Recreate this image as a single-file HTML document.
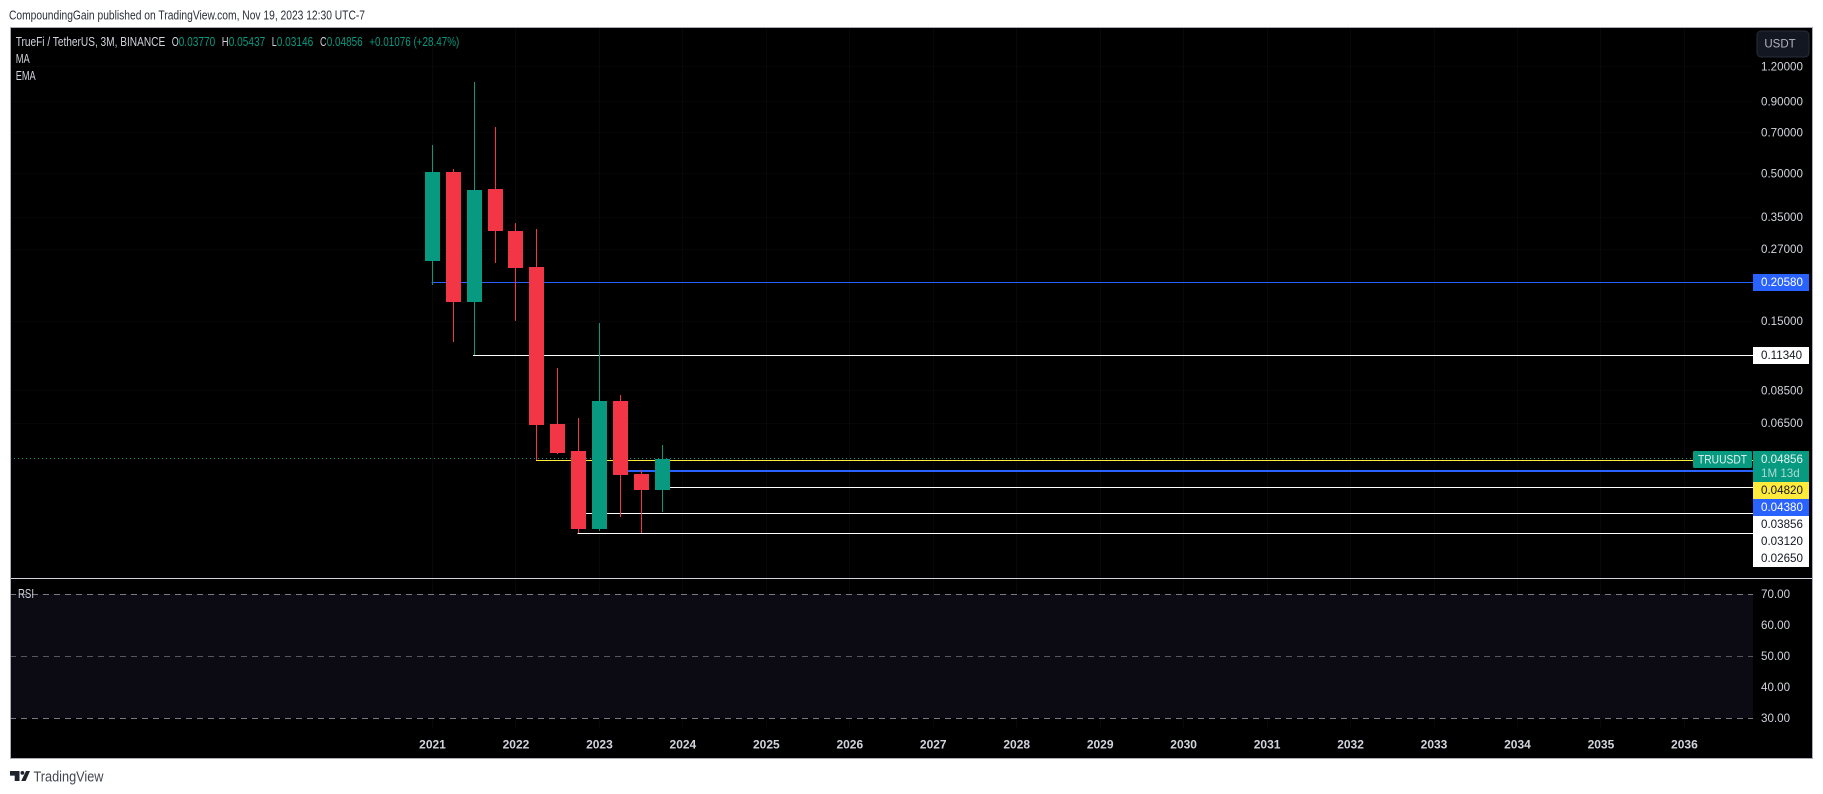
<!DOCTYPE html>
<html lang="en">
<head>
<meta charset="utf-8">
<title>TRUUSDT 3M chart</title>
<style>
html,body{margin:0;padding:0;background:#fff;width:1823px;height:794px;overflow:hidden}
svg{display:block;font-family:"Liberation Sans",sans-serif}
text{dominant-baseline:central}
</style>
</head>
<body>
<svg id="chart" xmlns="http://www.w3.org/2000/svg" width="1823" height="794" viewBox="0 0 1823 794">
  <text x="9" y="15" font-size="13" fill="#2a2e39" textLength="356" lengthAdjust="spacingAndGlyphs">CompoundingGain published on TradingView.com, Nov 19, 2023 12:30 UTC-7</text>
  <rect x="10" y="27" width="1803" height="732" fill="#000"/>
  <g id="grid" shape-rendering="crispEdges"></g>
  <rect x="10" y="594" width="1743" height="124" fill="#0c0a12"/>
  <g id="rsi" shape-rendering="crispEdges"></g>
  <g id="levels" shape-rendering="crispEdges"></g>
  <g id="candles" shape-rendering="crispEdges"></g>
  <g id="axis"></g>

  <rect x="10" y="578" width="1803" height="1" fill="#d1d4dc" shape-rendering="crispEdges"/>
  <rect x="10.5" y="27.5" width="1802" height="731" fill="none" stroke="#a9acb6" stroke-width="1" shape-rendering="crispEdges"/>

  <g font-size="13">
    <text x="15.7" y="41.5" fill="#d1d4dc" textLength="149.5" lengthAdjust="spacingAndGlyphs">TrueFi / TetherUS, 3M, BINANCE</text>
    <text x="171.7" y="41.5" fill="#d1d4dc" textLength="7" lengthAdjust="spacingAndGlyphs">O</text>
    <text x="178.7" y="41.5" fill="#089981" textLength="36.5" lengthAdjust="spacingAndGlyphs">0.03770</text>
    <text x="221.7" y="41.5" fill="#d1d4dc" textLength="6.8" lengthAdjust="spacingAndGlyphs">H</text>
    <text x="228.7" y="41.5" fill="#089981" textLength="36.5" lengthAdjust="spacingAndGlyphs">0.05437</text>
    <text x="271.7" y="41.5" fill="#d1d4dc" textLength="5" lengthAdjust="spacingAndGlyphs">L</text>
    <text x="276.7" y="41.5" fill="#089981" textLength="36.5" lengthAdjust="spacingAndGlyphs">0.03146</text>
    <text x="320" y="41.5" fill="#d1d4dc" textLength="6.5" lengthAdjust="spacingAndGlyphs">C</text>
    <text x="326.7" y="41.5" fill="#089981" textLength="36" lengthAdjust="spacingAndGlyphs">0.04856</text>
    <text x="369.3" y="41.5" fill="#089981" textLength="90" lengthAdjust="spacingAndGlyphs">+0.01076 (+28.47%)</text>
    <text x="15.7" y="58.5" fill="#d1d4dc" textLength="14" lengthAdjust="spacingAndGlyphs">MA</text>
    <text x="15.7" y="75.5" fill="#d1d4dc" textLength="20" lengthAdjust="spacingAndGlyphs">EMA</text>
    <text x="18" y="593.5" fill="#d1d4dc" textLength="16" lengthAdjust="spacingAndGlyphs">RSI</text>
  </g>

  <g>
    <rect x="1757" y="31" width="52" height="26" rx="4" fill="#131722" stroke="#2a2e39"/>
    <text x="1780" y="44.5" font-size="11.5" fill="#b2b5be" text-anchor="middle">USDT</text>
  </g>

  <g>
    <path d="M10 771h9.5v10h-4.8v-5.4H10zM26 771h4l-4.4 10h-4.4zM22.4 771a1.9 1.9 0 1 1 0 3.8a1.9 1.9 0 1 1 0-3.8z" fill="#1e222d"/>
    <text x="33.5" y="777" font-size="15" fill="#434651" textLength="70" lengthAdjust="spacingAndGlyphs">TradingView</text>
  </g>
</svg>

<script>
// ---- data ----
const barTimes   = [2021, 2021.25, 2021.5, 2021.75, 2022, 2022.25, 2022.5, 2022.75, 2023, 2023.25, 2023.5, 2023.75];
const barOpen    = [0.245, 0.507, 0.1752, 0.4415, 0.3132, 0.2333, 0.0646, 0.0519, 0.02739, 0.0780, 0.0430, 0.0377];
const barHigh    = [0.633, 0.520, 1.059, 0.733, 0.3343, 0.3183, 0.1021, 0.0679, 0.1476, 0.0819, 0.04435, 0.05437];
const barLow     = [0.2014, 0.1264, 0.1134, 0.2411, 0.150, 0.0482, 0.0506, 0.0265, 0.0269, 0.0302, 0.0264, 0.03146];
const barClose   = [0.507, 0.1752, 0.438, 0.3132, 0.2314, 0.0641, 0.0510, 0.02739, 0.0780, 0.0426, 0.0377, 0.04856];

const priceTicks = [1.2, 0.9, 0.7, 0.5, 0.35, 0.27, 0.15, 0.085, 0.065];
const yearTicks  = [2021, 2022, 2023, 2024, 2025, 2026, 2027, 2028, 2029, 2030, 2031, 2032, 2033, 2034, 2035, 2036];
const rsiTicks   = [70, 60, 50, 40, 30];

const blueLevels        = [0.2058, 0.0438];
const blueLevelStarts   = [2021, 2023.25];
const whiteLevels       = [0.1134, 0.03856, 0.0312, 0.0265];
const whiteLevelStarts  = [2021.5, 2023.75, 2022.75, 2022.75];
const yellowLevels      = [0.0482];
const yellowLevelStarts = [2022.25];
const lastPrice = 0.04856;
const countdownText = '1M 13d';
const symbolText = 'TRUUSDT';

// ---- axis functions ----
const NS = 'http://www.w3.org/2000/svg';
const plotLeft = 10, plotRight = 1753;
function xOf(t) { return 432.5 + (t - 2021) * 83.46; }
function yOf(p) { return 66.7 + 122.3 * Math.log(1.2 / p); }
function rsiY(v) { return 594.3 + (70 - v) * 3.1; }

function mk(parent, tag, attrs, txt) {
  const el = document.createElementNS(NS, tag);
  for (const k in attrs) el.setAttribute(k, attrs[k]);
  if (txt !== undefined) el.textContent = txt;
  parent.appendChild(el);
  return el;
}
const gridG = document.getElementById('grid');
const rsiG = document.getElementById('rsi');
const levelsG = document.getElementById('levels');
const candlesG = document.getElementById('candles');
const axisG = document.getElementById('axis');
const GREEN = '#089981', RED = '#F23645', BLUE = '#2962FF', YELLOW = '#FFEB3B', WHITE = '#FFFFFF';

// ---- grid ----
priceTicks.forEach(function (p) {
  const el = mk(gridG, 'rect', {x: plotLeft, y: Math.floor(yOf(p)), width: plotRight - plotLeft, height: 1, fill: '#060606'});
  
  
});
yearTicks.forEach(function (t) {
  const x = Math.floor(xOf(t));
  const a = mk(gridG, 'rect', {x: x, y: 28, width: 1, height: 550, fill: '#080808'});
  
  
  const b = mk(gridG, 'rect', {x: x, y: 579, width: 1, height: 150, fill: '#080808'});
  
  
});

// ---- RSI pane ----
rsiTicks.forEach(function (v) {
  if (v === 70 || v === 50 || v === 30) {
    const yy = Math.floor(rsiY(v)) + 0.5;
    const line = mk(rsiG, 'line', {x1: plotLeft, x2: plotRight, y1: yy, y2: yy, stroke: v === 50 ? '#55575f' : '#787b86', 'stroke-dasharray': '6 5'});
    
    
  }
  const lab = mk(axisG, 'text', {x: 1761, y: rsiY(v) + 0.3, 'font-size': 11.6, fill: '#d1d4dc'}, v.toFixed(2));
  
  
});

// ---- horizontal levels ----
function drawLevel(price, start, color, thick, name) {
  const el = mk(levelsG, 'rect', {x: xOf(start) - 1, y: Math.round(yOf(price) - (thick - 1) * 1.5), width: plotRight - xOf(start) + 1, height: thick, fill: color});
  
  
}
blueLevels.forEach(function (p, i) { drawLevel(p, blueLevelStarts[i], BLUE, p < 0.1 ? 2 : 1, 'blue-level-line'); });
whiteLevels.forEach(function (p, i) { drawLevel(p, whiteLevelStarts[i], WHITE, 1, 'white-level-line'); });
yellowLevels.forEach(function (p, i) { drawLevel(p, yellowLevelStarts[i], YELLOW, 1, 'yellow-level-line'); });

const lastLine = mk(levelsG, 'line', {x1: plotLeft, x2: plotRight, y1: Math.floor(yOf(lastPrice)) + 0.5, y2: Math.floor(yOf(lastPrice)) + 0.5, stroke: GREEN, 'stroke-dasharray': '1 3'});



// ---- candles ----
barTimes.forEach(function (t, i) {
  const o = barOpen[i], h = barHigh[i], l = barLow[i], c = barClose[i];
  const color = c >= o ? GREEN : RED;
  const left = Math.round(xOf(t) - 7.5);
  const wx = left + 7;
  const top = Math.round(yOf(Math.max(o, c)));
  const bottom = Math.round(yOf(Math.min(o, c)));
  const wick = mk(candlesG, 'rect', {x: wx, y: Math.round(yOf(h)), width: 1, height: Math.max(1, Math.round(yOf(l)) - Math.round(yOf(h))), fill: color});
  
  
  const body = mk(candlesG, 'rect', {x: left, y: top, width: 15, height: Math.max(1, bottom - top), fill: color});
  
  
});

// ---- axis tick labels ----
priceTicks.forEach(function (p) {
  const lab = mk(axisG, 'text', {x: 1761, y: yOf(p) + 0.3, 'font-size': 11.6, fill: '#d1d4dc'}, p.toFixed(5));
  
  
});
yearTicks.forEach(function (t) {
  const lab = mk(axisG, 'text', {x: xOf(t), y: 744.5, 'font-size': 12, 'font-weight': 'bold', fill: '#d1d4dc', 'text-anchor': 'middle'}, String(t));
  
  
});

// ---- price labels (stacked so they never overlap) ----
const LABEL_H = 17, LABEL_X = 1753, LABEL_W = 56;
function priceLabel(price, bg, fg, minTop, name) {
  const natural = yOf(price) - LABEL_H / 2;
  const top = Math.max(natural, minTop);
  const box = mk(axisG, 'rect', {x: LABEL_X, y: Math.round(top), width: LABEL_W, height: LABEL_H, fill: bg, 'shape-rendering': 'crispEdges'});
  
  
  const lab = mk(axisG, 'text', {x: 1761, y: Math.round(top) + 8.7, 'font-size': 11.6, fill: fg}, price.toFixed(5));
  
  
  return Math.round(top) + LABEL_H;
}

// last-price block with countdown and symbol tag
const lastTop = Math.round(yOf(lastPrice) - 8.1);
const lastBox = mk(axisG, 'rect', {x: LABEL_X, y: lastTop, width: LABEL_W, height: 31, fill: GREEN, 'shape-rendering': 'crispEdges'});


const lastLab = mk(axisG, 'text', {x: 1761, y: lastTop + 8.7, 'font-size': 11.6, fill: '#e4f3f0'}, lastPrice.toFixed(5));


const countLab = mk(axisG, 'text', {x: 1761, y: lastTop + 22.7, 'font-size': 11.6, fill: '#a8dcd2'}, countdownText);


const symBox = mk(axisG, 'rect', {x: 1693, y: lastTop, width: 59, height: 17, rx: 1.5, fill: GREEN});


const symLab = mk(axisG, 'text', {x: 1698, y: lastTop + 8.7, 'font-size': 12, fill: '#e4f3f0', textLength: 49, lengthAdjust: 'spacingAndGlyphs'}, symbolText);



// labels above the last-price block
blueLevels.forEach(function (p) { if (p > lastPrice) priceLabel(p, BLUE, '#ffffff', 0, 'blue-level-label'); });
whiteLevels.forEach(function (p) { if (p > lastPrice) priceLabel(p, WHITE, '#131722', 0, 'white-level-label'); });

// labels below it stack downward in price order
let stackTop = lastTop + 31;
yellowLevels.forEach(function (p) { stackTop = priceLabel(p, YELLOW, '#131722', stackTop, 'yellow-level-label'); });
blueLevels.forEach(function (p) { if (p < lastPrice) stackTop = priceLabel(p, BLUE, '#ffffff', stackTop, 'blue-level-label'); });
whiteLevels.forEach(function (p) { if (p < lastPrice) stackTop = priceLabel(p, WHITE, '#131722', stackTop, 'white-level-label'); });
</script>
</body>
</html>
